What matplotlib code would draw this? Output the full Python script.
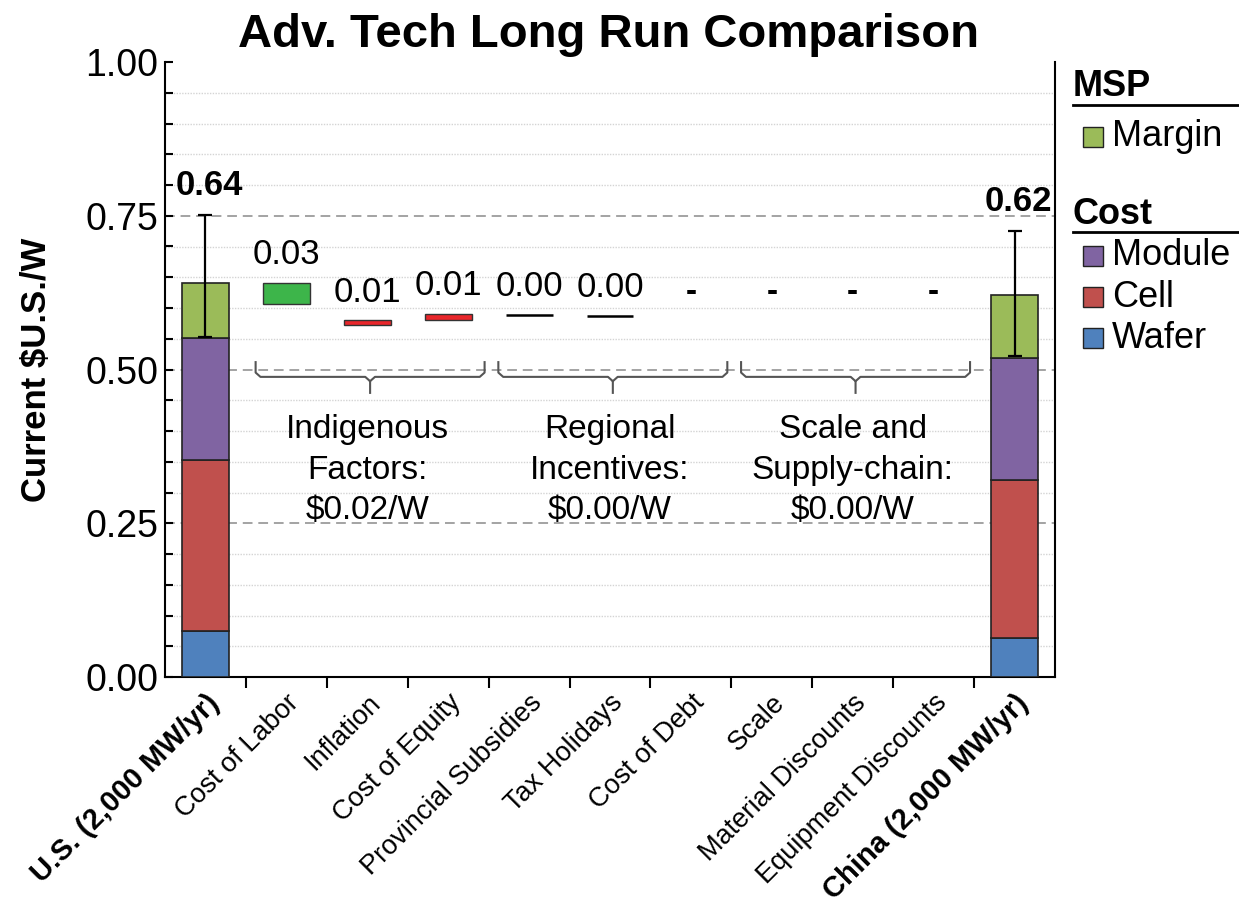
import matplotlib
matplotlib.use("Agg")
import matplotlib.pyplot as plt
import numpy as np
from matplotlib.patches import Rectangle
from matplotlib.lines import Line2D

plt.rcParams['font.family'] = ['Liberation Sans', 'DejaVu Sans']

categories = ['U.S. (2,000 MW/yr)', 'Cost of Labor', 'Inflation', 'Cost of Equity',
              'Provincial Subsidies', 'Tax Holidays', 'Cost of Debt', 'Scale',
              'Material Discounts', 'Equipment Discounts', 'China (2,000 MW/yr)']

# end bars: U.S. and China
wafer = [0.075, 0.063]
cell = [0.278, 0.257]
module = [0.198, 0.199]
margin = [0.090, 0.102]
err_low = [0.088, 0.099]
err_high = [0.110, 0.104]
total_labels = ['0.64', '0.62']

# waterfall steps between them
step_bottom = [0.607, 0.572, 0.580, 0.589, 0.587, None, None, None, None]
step_size = [0.034, 0.008, 0.010, 0.0, 0.0, None, None, None, None]
step_labels = ['0.03', '0.01', '0.01', '0.00', '0.00', '-', '-', '-', '-']
step_colors = ['#3db54a', '#e9262b', '#e9262b', 'black', 'black', None, None, None, None]

group_text = ['Indigenous\nFactors:\n$0.02/W', 'Regional\nIncentives:\n$0.00/W',
              'Scale and\nSupply-chain:\n$0.00/W']
group_span = [(1, 3), (4, 6), (7, 9)]

c_wafer = '#4f81bd'
c_cell = '#c0504d'
c_module = '#8064a2'
c_margin = '#9bbb59'

W, H = 1239, 909
fig = plt.figure(figsize=(W / 100, H / 100), dpi=100)
ax = fig.add_axes([165 / W, 1 - 677 / H, 890 / W, 615 / H])

bw = 0.58
ends = [0, 10]

# grid
for v in np.arange(0.05, 1.0, 0.05):
    v = round(v, 2)
    if v in (0.25, 0.5, 0.75):
        ax.axhline(v, color='#a3a3a3', lw=1.4, ls=(0, (5, 3)), zorder=0)
    else:
        ax.axhline(v, color='#d4d4d4', lw=1.0, ls=(0, (1, 1)), zorder=0)

# stacked end bars
bottom = np.zeros(2)
for vals, col in [(wafer, c_wafer), (cell, c_cell), (module, c_module), (margin, c_margin)]:
    ax.bar(ends, vals, bw, bottom=bottom, color=col, edgecolor='#222222', lw=1.2, zorder=3)
    bottom = bottom + np.array(vals)
ax.errorbar(ends, bottom, yerr=[err_low, err_high], fmt='none', ecolor='black',
            elinewidth=1.6, capsize=5, capthick=1.6, zorder=4)
for x, tot, eh, lab in zip(ends, bottom, err_high, total_labels):
    ax.text(x + 0.05, tot + eh + 0.022, lab, ha='center', va='bottom',
            fontsize=25, fontweight='bold', zorder=5)

# waterfall steps
for i, (b, s, lab, col) in enumerate(zip(step_bottom, step_size, step_labels, step_colors)):
    x = i + 1
    if b is None:
        ax.text(x, 0.626, lab, ha='center', va='center', fontsize=24, fontweight='bold')
        continue
    if s > 0:
        ax.bar(x, s, bw, bottom=b, color=col, edgecolor='#333333', lw=1.0, zorder=3)
    else:
        ax.hlines(b, x - bw / 2, x + bw / 2, color=col, lw=1.8, zorder=3)
    ax.text(x, b + s + 0.046, lab, ha='center', va='center', fontsize=25)

# braces and group text
for (a, b), txt in zip(group_span, group_text):
    x0, x1 = a - 0.38, b + 0.45
    xm = (x0 + x1) / 2
    ax.plot([x0, x0, x0 + 0.06, xm - 0.06, xm, xm], [0.512, 0.495, 0.488, 0.488, 0.481, 0.462],
            color='#555555', lw=1.5, zorder=2, solid_joinstyle='round')
    ax.plot([x1, x1, x1 - 0.06, xm + 0.06, xm], [0.512, 0.495, 0.488, 0.488, 0.481],
            color='#555555', lw=1.5, zorder=2, solid_joinstyle='round')
    ax.text((a + b) / 2, 0.336, txt, ha='center', va='center', fontsize=24, linespacing=1.4)

ax.set_xlim(-0.5, 10.5)
ax.set_ylim(0, 1.0)

ax.set_yticks([0, 0.25, 0.5, 0.75, 1.0])
ax.set_yticklabels(['0.00', '0.25', '0.50', '0.75', '1.00'], fontsize=27)
ax.set_yticks(np.arange(0, 1.0001, 0.05), minor=True)
ax.tick_params(axis='y', which='both', direction='in', length=6, width=1.5, pad=5)

ax.set_xticks(np.arange(0.5, 10, 1.0))
ax.set_xticklabels([])
ax.set_xticks(np.arange(11), minor=True)
ax.set_xticklabels(categories, minor=True, rotation=45, ha='right', rotation_mode='anchor')
ax.tick_params(axis='x', which='major', direction='out', length=8, width=1.5)
ax.tick_params(axis='x', which='minor', length=0, pad=9)
for i, t in enumerate(ax.get_xticklabels(minor=True)):
    if i in ends:
        t.set_fontsize(21)
        t.set_fontweight('bold')
    else:
        t.set_fontsize(19.5)

ax.set_ylabel('Current $U.S./W', fontsize=25, fontweight='bold', labelpad=23)

for sp in ['left', 'bottom', 'right']:
    ax.spines[sp].set_linewidth(1.5)
ax.spines['top'].set_visible(False)

fig.text(608 / W, 1 - 35 / H, 'Adv. Tech Long Run Comparison', ha='center', va='center',
         fontsize=34, fontweight='bold')

# legend drawn by hand
def fx(px):
    return px / W

def fy(py):
    return 1 - py / H

def leg_head(text, y, yline):
    fig.text(fx(1073), fy(y), text, ha='left', va='center', fontsize=26, fontweight='bold')
    fig.add_artist(Line2D([fx(1073), fx(1239)], [fy(yline), fy(yline)], color='black', lw=2,
                          transform=fig.transFigure))

def leg_item(text, col, y):
    fig.add_artist(Rectangle((fx(1083), fy(y + 10)), 20 / W, 20 / H, facecolor=col,
                             edgecolor='#222222', lw=1.0, transform=fig.transFigure))
    fig.text(fx(1112), fy(y), text, ha='left', va='center', fontsize=26)

leg_head('MSP', 87, 105)
leg_item('Margin', c_margin, 137)
leg_head('Cost', 214, 232)
leg_item('Module', c_module, 256)
leg_item('Cell', c_cell, 297)
leg_item('Wafer', c_wafer, 338)

fig.savefig('out.png', dpi=100)
